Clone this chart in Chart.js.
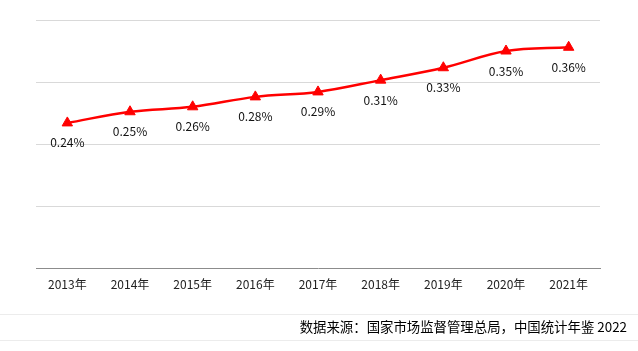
<!DOCTYPE html>
<html><head><meta charset="utf-8">
<script src="https://cdn.jsdelivr.net/npm/chart.js@4/dist/chart.umd.min.js"></script>
<style>html,body{margin:0;padding:0;background:#fff;}#wrap{position:relative;width:638px;height:351px;}</style>
</head><body><div id="wrap"><canvas id="c" width="638" height="351"></canvas></div>
<script>
const categories = ["2013年","2014年","2015年","2016年","2017年","2018年","2019年","2020年","2021年"];
const values = [0.234, 0.252, 0.260, 0.276, 0.284, 0.303, 0.323, 0.350, 0.356];
const valueLabels = ["0.24%","0.25%","0.26%","0.28%","0.29%","0.31%","0.33%","0.35%","0.36%"];
const sourceText = "数据来源：国家市场监督管理总局，中国统计年鉴 2022";
const FONT = "'Noto Sans CJK SC','Noto Sans',sans-serif";

const labelPlugin = {
  id: 'labels',
  afterDatasetsDraw(chart) {
    const ctx = chart.ctx;
    const meta = chart.getDatasetMeta(0);
    ctx.save();
    ctx.font = "12px " + FONT;
    ctx.fillStyle = "#111";
    ctx.textAlign = "center";
    ctx.textBaseline = "middle";
    meta.data.forEach((pt, i) => {
      ctx.fillText(valueLabels[i], pt.x, pt.y + 20);
    });
    ctx.restore();
  },
  afterDraw(chart) {
    const ctx = chart.ctx;
    ctx.save();
    ctx.strokeStyle = "#ececec";
    ctx.lineWidth = 1;
    ctx.beginPath();
    ctx.moveTo(0, 314.5); ctx.lineTo(638, 314.5);
    ctx.moveTo(0, 340.5); ctx.lineTo(638, 340.5);
    ctx.stroke();
    ctx.font = "13.4px " + FONT;
    ctx.fillStyle = "#000";
    ctx.textAlign = "right";
    ctx.textBaseline = "middle";
    ctx.fillText(sourceText, 627, 327);
    ctx.restore();
  }
};

new Chart(document.getElementById('c'), {
  type: 'line',
  data: {
    labels: categories,
    datasets: [{
      data: values,
      borderColor: '#ff0000',
      backgroundColor: '#ff0000',
      borderWidth: 2.5,
      tension: 0.35,
      pointStyle: 'triangle',
      pointRadius: 6,
      pointHoverRadius: 6,
      pointBorderWidth: 1
    }]
  },
  options: {
    responsive: false,
    animation: false,
    events: [],
    layout: { padding: { left: 0, right: 38, top: 20, bottom: 53 } },
    plugins: { legend: { display: false }, tooltip: { enabled: false } },
    scales: {
      x: {
        offset: true,
        grid: { display: false, drawTicks: false },
        border: { display: true, color: '#8c8c8c', width: 1 },
        ticks: { font: { size: 12, family: FONT }, color: '#222', padding: 9, maxRotation: 0 },
        afterFit: s => { s.height = 30; }
      },
      y: {
        min: 0, max: 0.4,
        ticks: { display: false, stepSize: 0.1 },
        grid: { color: c => c.tick && c.tick.value === 0 ? 'rgba(0,0,0,0)' : '#d9d9d9', drawTicks: false },
        border: { display: false },
        afterFit: s => { s.width = 36; }
      }
    }
  },
  plugins: [labelPlugin]
});
</script></body></html>
